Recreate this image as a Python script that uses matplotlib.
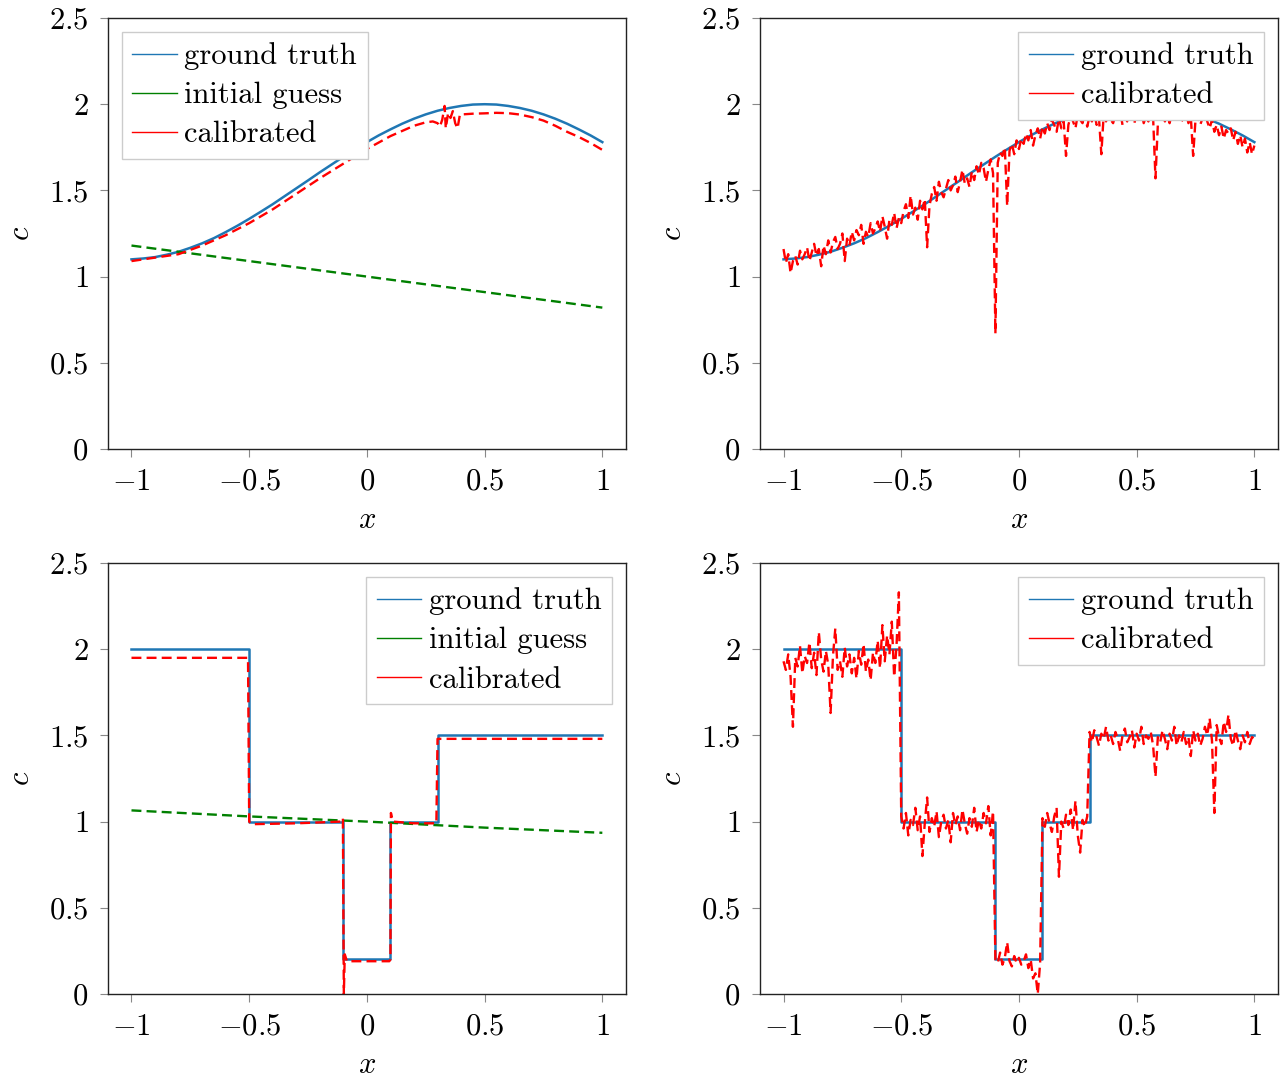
import numpy as np
import matplotlib as mpl
mpl.use("Agg")
import matplotlib.pyplot as plt
from matplotlib.lines import Line2D

mpl.rcParams.update({
    "font.family": "serif", "font.serif": ["cmr10", "DejaVu Serif"],
    "mathtext.fontset": "cm", "axes.formatter.use_mathtext": True,
    "font.size": 22, "axes.linewidth": 1.0, "axes.edgecolor": "#222222",
    "xtick.direction": "out", "ytick.direction": "out",
    "xtick.color": "#888888", "ytick.color": "#888888",
    "xtick.labelcolor": "black", "ytick.labelcolor": "black",
    "xtick.major.size": 6, "ytick.major.size": 6,
    "xtick.major.width": 0.8, "ytick.major.width": 0.8,
    "xtick.major.pad": 8, "ytick.major.pad": 8,
})
C = {"truth": "#1f77b4", "guess": "green", "cal": "red"}

# --- smooth coefficient (top row) ---------------------------------------
x_smooth = [-1.00, -0.95, -0.90, -0.85, -0.80, -0.75, -0.70, -0.65, -0.60, -0.55,
            -0.50, -0.45, -0.40, -0.35, -0.30, -0.25, -0.20, -0.15, -0.10, -0.05,
            0.00, 0.05, 0.10, 0.15, 0.20, 0.25, 0.30, 0.35, 0.40, 0.45,
            0.50, 0.55, 0.60, 0.65, 0.70, 0.75, 0.80, 0.85, 0.90, 0.95, 1.00]
truth_smooth = [1.100, 1.105, 1.113, 1.127, 1.144, 1.167, 1.193, 1.223, 1.258, 1.295,
                1.335, 1.377, 1.420, 1.466, 1.512, 1.558, 1.605, 1.650, 1.695, 1.738,
                1.780, 1.819, 1.854, 1.887, 1.916, 1.941, 1.962, 1.978, 1.990, 1.998,
                2.000, 1.998, 1.990, 1.978, 1.962, 1.941, 1.916, 1.887, 1.854, 1.819, 1.780]

x_guess_smooth = [-1.0, -0.5, 0.0, 0.5, 1.0]
guess_smooth = [1.18, 1.09, 1.00, 0.91, 0.82]

x_cal_smooth = [-1.0, -0.9, -0.8, -0.7, -0.6, -0.5, -0.4, -0.3, -0.2, -0.1, 0.0, 0.1,
                0.2, 0.25, 0.28, 0.30, 0.31, 0.32, 0.33, 0.335, 0.345, 0.355, 0.365,
                0.375, 0.385, 0.395, 0.45, 0.5, 0.55, 0.6, 0.65, 0.7, 0.75, 0.8,
                0.85, 0.9, 0.95, 1.0]
cal_smooth = [1.09, 1.11, 1.13, 1.18, 1.24, 1.31, 1.39, 1.48, 1.57, 1.655, 1.74, 1.815,
              1.875, 1.895, 1.90, 1.89, 1.87, 1.91, 1.99, 1.86, 1.95, 1.92, 1.96,
              1.89, 1.86, 1.94, 1.945, 1.947, 1.95, 1.948, 1.94, 1.925, 1.905, 1.875,
              1.84, 1.81, 1.775, 1.735]

# noisy data, sampled every 0.01 on [-1, 1]
x_fine = np.round(np.linspace(-1.0, 1.0, 201), 2)
cal_smooth_noisy = [
    1.16, 1.08, 1.13, 1.02, 1.09, 1.12, 1.07, 1.15, 1.10, 1.13,
    1.17, 1.09, 1.14, 1.19, 1.12, 1.16, 1.06, 1.18, 1.13, 1.21,
    1.14, 1.20, 1.23, 1.16, 1.19, 1.25, 1.09, 1.22, 1.18, 1.26,
    1.21, 1.27, 1.24, 1.30, 1.19, 1.26, 1.23, 1.31, 1.25, 1.28,
    1.32, 1.26, 1.35, 1.29, 1.22, 1.33, 1.30, 1.37, 1.28, 1.34,
    1.31, 1.38, 1.42, 1.34, 1.47, 1.36, 1.40, 1.33, 1.44, 1.39,
    1.45, 1.17, 1.41, 1.48, 1.52, 1.44, 1.55, 1.49, 1.46, 1.51,
    1.56, 1.50, 1.53, 1.58, 1.49, 1.55, 1.62, 1.54, 1.57, 1.52,
    1.61, 1.56, 1.64, 1.59, 1.66, 1.63, 1.55, 1.62, 1.68, 1.60,
    0.67, 1.66, 1.72, 1.70, 1.75, 1.41, 1.73, 1.77, 1.71, 1.79,
    1.74, 1.80, 1.77, 1.83, 1.79, 1.85, 1.76, 1.82, 1.86, 1.80,
    1.87, 1.83, 1.89, 1.85, 1.91, 1.88, 1.84, 1.92, 1.86, 1.90,
    1.70, 1.88, 1.93, 1.90, 1.86, 1.94, 1.91, 1.89, 1.95, 1.87,
    1.93, 1.90, 1.95, 1.88, 1.92, 1.71, 1.94, 1.90, 1.96, 1.91,
    1.89, 1.94, 1.91, 1.96, 1.88, 1.93, 1.90, 1.95, 1.92, 1.89,
    1.94, 1.91, 1.96, 1.89, 1.93, 1.90, 1.95, 1.92, 1.57, 1.88,
    1.93, 1.96, 1.90, 1.94, 1.89, 1.95, 1.91, 1.93, 1.96, 1.90,
    1.92, 1.95, 1.89, 1.93, 1.70, 1.91, 1.94, 1.88, 1.92, 1.95,
    1.90, 1.86, 1.91, 1.84, 1.88, 1.82, 1.87, 1.80, 1.85, 1.83,
    1.86, 1.79, 1.84, 1.77, 1.82, 1.75, 1.80, 1.72, 1.78, 1.71,
    1.76]

# --- piecewise-constant coefficient (bottom row) ------------------------
x_step = [-1.0, -0.5, -0.5, -0.1, -0.1, 0.1, 0.1, 0.3, 0.3, 1.0]
truth_step = [2.0, 2.0, 1.0, 1.0, 0.2, 0.2, 1.0, 1.0, 1.5, 1.5]

x_guess_step = [-1.0, -0.5, 0.0, 0.5, 1.0]
guess_step = [1.065, 1.03, 1.0, 0.965, 0.935]

x_cal_step = [-1.0, -0.505, -0.5, -0.49, -0.3, -0.11, -0.102, -0.1, -0.098, -0.094,
              -0.085, 0.095, 0.1, 0.102, 0.11, 0.2, 0.295, 0.3, 0.31, 1.0]
cal_step = [1.95, 1.95, 1.0, 0.985, 0.99, 1.0, 1.02, 0.5, 0.0, 0.23,
            0.19, 0.19, 0.2, 1.05, 1.0, 0.99, 0.99, 1.48, 1.48, 1.48]

cal_step_noisy = [
    1.93, 1.88, 1.97, 1.84, 1.55, 1.95, 1.90, 2.02, 1.86, 1.96,
    1.92, 2.04, 1.89, 1.98, 1.85, 2.10, 1.94, 1.87, 1.99, 1.91,
    1.63, 1.96, 2.12, 1.88, 1.93, 1.84, 2.01, 1.90, 1.97, 1.86,
    1.95, 1.83, 1.99, 1.91, 2.03, 1.87, 1.94, 1.82, 1.98, 1.92,
    2.05, 1.89, 2.14, 1.93, 2.08, 1.97, 2.16, 1.84, 2.02, 2.33,
    1.03, 0.96, 1.05, 0.92, 1.01, 0.98, 1.08, 0.95, 1.03, 0.80,
    0.99, 1.14, 0.94, 1.02, 0.97, 1.06, 0.91, 1.00, 1.04, 0.96,
    1.01, 0.88, 1.05, 0.98, 1.03, 0.95, 1.07, 0.99, 0.93, 1.02,
    0.97, 1.08, 0.94, 1.01, 0.96, 1.05, 0.99, 1.09, 0.92, 1.06,
    0.20, 0.18, 0.24, 0.17, 0.21, 0.30, 0.19, 0.16, 0.22, 0.18,
    0.21, 0.17, 0.19, 0.23, 0.15, 0.20, 0.09, 0.12, 0.00, 0.18,
    1.02, 0.97, 1.05, 0.99, 0.94, 1.03, 1.08, 0.68, 1.00, 0.96,
    1.04, 0.98, 1.07, 0.95, 1.12, 0.92, 0.82, 1.01, 0.97, 1.03,
    1.52, 1.46, 1.53, 1.49, 1.44, 1.51, 1.48, 1.55, 1.47, 1.50,
    1.45, 1.52, 1.48, 1.41, 1.50, 1.54, 1.46, 1.49, 1.53, 1.43,
    1.51, 1.47, 1.55, 1.45, 1.50, 1.48, 1.52, 1.44, 1.26, 1.49,
    1.46, 1.53, 1.48, 1.42, 1.51, 1.47, 1.55, 1.44, 1.50, 1.46,
    1.52, 1.45, 1.49, 1.38, 1.53, 1.47, 1.51, 1.44, 1.48, 1.55,
    1.50, 1.60, 1.47, 1.05, 1.56, 1.49, 1.45, 1.58, 1.52, 1.62,
    1.48, 1.44, 1.53, 1.47, 1.42, 1.50, 1.46, 1.52, 1.45, 1.49,
    1.48]

DASH = (4.2, 2.2)


def _style(ax):
    ax.set_xlim(-1.1, 1.1)
    ax.set_ylim(0, 2.5)
    ax.set_xticks([-1, -0.5, 0, 0.5, 1])
    ax.set_yticks([0, 0.5, 1, 1.5, 2, 2.5])
    ax.set_xticklabels(["$-1$", "$-0.5$", "$0$", "$0.5$", "$1$"])
    ax.set_yticklabels(["$0$", "$0.5$", "$1$", "$1.5$", "$2$", "$2.5$"])
    ax.set_xlabel("$x$", labelpad=8)
    ax.set_ylabel("$c$", labelpad=10)


def _legend(ax, with_guess, loc):
    handles = [Line2D([], [], color=C["truth"], lw=1.0)]
    labels = ["ground truth"]
    if with_guess:
        handles.append(Line2D([], [], color=C["guess"], lw=1.0))
        labels.append("initial guess")
    handles.append(Line2D([], [], color=C["cal"], lw=1.0))
    labels.append("calibrated")
    leg = ax.legend(handles, labels, loc=loc, fancybox=False, framealpha=1.0,
                    edgecolor="#cccccc", handlelength=1.45, handletextpad=0.25,
                    labelspacing=0.38, borderpad=0.35, borderaxespad=0.45)
    leg.get_frame().set_linewidth(1.0)


def _panel(ax, xt, yt, xc, yc, xg=None, yg=None, loc="upper right"):
    ax.plot(xt, yt, color=C["truth"], lw=1.8)
    if xg is not None:
        ax.plot(xg, yg, color=C["guess"], lw=1.7, dashes=DASH)
    ax.plot(xc, yc, color=C["cal"], lw=1.7, dashes=DASH)
    _style(ax)
    _legend(ax, xg is not None, loc)


fig = plt.figure(figsize=(12.82, 10.79), dpi=100)
w, h = 0.4040, 0.3994
ax1 = fig.add_axes([0.0842, 0.5839, w, h])
ax2 = fig.add_axes([0.5928, 0.5839, w, h])
ax3 = fig.add_axes([0.0842, 0.0788, w, h])
ax4 = fig.add_axes([0.5928, 0.0788, w, h])

_panel(ax1, x_smooth, truth_smooth, x_cal_smooth, cal_smooth,
       x_guess_smooth, guess_smooth, loc="upper left")
_panel(ax2, x_smooth, truth_smooth, x_fine, cal_smooth_noisy)
_panel(ax3, x_step, truth_step, x_cal_step, cal_step, x_guess_step, guess_step)
_panel(ax4, x_step, truth_step, x_fine, cal_step_noisy)

fig.savefig("out.png", dpi=100)
